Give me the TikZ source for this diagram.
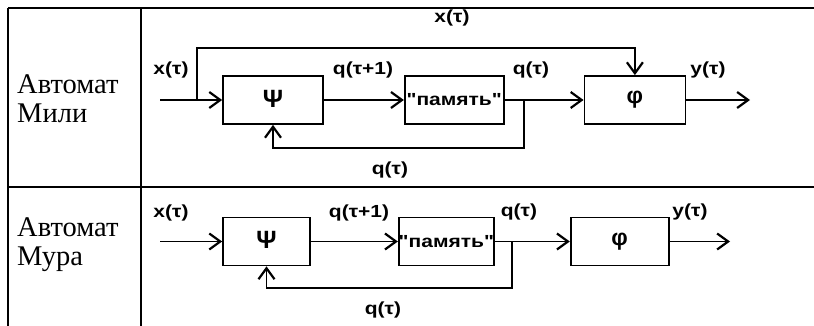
\documentclass[tikz,border=0pt]{standalone}
\usepackage{fontspec}
\setmainfont{Liberation Serif}
\newfontfamily\lblfont[FakeStretch=1.2]{Liberation Sans}
\newfontfamily\symfont{Liberation Sans}
\usetikzlibrary{arrows.meta,positioning}
\newcommand{\lblsize}{\lblfont\bfseries\fontsize{17.5}{19}\selectfont}
\tikzset{
  blockbox/.style={draw=black,line width=1.7pt,minimum height=48pt,
    inner sep=0pt,font=\symfont\bfseries\fontsize{25}{25}\selectfont},
  membox/.style={blockbox,font=\lblsize},
  sigline/.style={line width=1.7pt,draw=black},
  sigarrow/.style={sigline,
    -{Straight Barb[length=11pt,width=16pt,line width=2.2pt]}},
  siglabel/.style={font=\lblsize,inner sep=0pt},
  rowtext/.style={font=\fontsize{28.5}{29}\selectfont,align=left,
    anchor=west,inner sep=0pt},
  tableline/.style={line width=1.5pt},
}

\begin{document}
\begin{tikzpicture}[x=1pt,y=-1pt]
  \useasboundingbox (0,0) rectangle (814,326);
  % table frame
  \draw[tableline] (8,8) -- (814,8);
  \draw[tableline] (8,187) -- (814,187);
  \draw[tableline] (8,8) -- (8,326);
  \draw[tableline] (141,8) -- (141,326);
  \node[rowtext] (mealyname) at (17,99) {Автомат\\Мили};
  \node[rowtext] (moorename) at (17,245) {Автомат\\Мура};

  % Mealy automaton
  \node[blockbox,minimum width=100pt] (psiA) at (273,100) {\raisebox{3pt}{Ψ}};
  \node[membox,minimum width=99pt,right=80pt of psiA] (memA) {"память"};
  \node[blockbox,minimum width=101pt,right=79pt of memA] (phiA)
    {\fontsize{23}{23}\selectfont\raisebox{5pt}{φ}};
  \coordinate (inA) at (160,100);
  \coordinate (brA) at (197,100);
  \coordinate (fbA) at (524,100);
  \coordinate (outA) at (750,100);
  \draw[sigarrow] (inA) -- (psiA);
  \draw[sigarrow] (brA) -- ++(0,-52) -| (phiA.north);
  \draw[sigarrow] (psiA) -- (memA);
  \draw[sigarrow] (memA) -- (phiA);
  \draw[sigarrow] (fbA) -- ++(0,48) -| (psiA.south);
  \draw[sigarrow] (phiA) -- (outA);
  \node[siglabel] (xinA) at (171,70) {x(τ)};
  \node[siglabel] (xtopA) at (452,18) {x(τ)};
  \node[siglabel] (qnextA) at (363,70) {q(τ+1)};
  \node[siglabel] (qoutA) at (531,70) {q(τ)};
  \node[siglabel] (yA) at (708,70) {y(τ)};
  \node[siglabel] (qfbA) at (390,170) {q(τ)};

  % Moore automaton
  \node[blockbox,minimum width=87pt] (psiB) at (266.5,241.5) {\raisebox{3pt}{Ψ}};
  \node[membox,minimum width=95pt,right=87pt of psiB] (memB) {"память"};
  \node[blockbox,minimum width=98pt,right=75pt of memB] (phiB)
    {\fontsize{23}{23}\selectfont\raisebox{5pt}{φ}};
  \coordinate (inB) at (160,241.5);
  \coordinate (fbB) at (512,241.5);
  \coordinate (outB) at (730,241.5);
  \draw[sigarrow] (inB) -- (psiB);
  \draw[sigarrow] (psiB) -- (memB);
  \draw[sigarrow] (memB) -- (phiB);
  \draw[sigarrow] (fbB) -- ++(0,46.5) -| (psiB.south);
  \draw[sigarrow] (phiB) -- (outB);
  \node[siglabel] (xinB) at (171,213) {x(τ)};
  \node[siglabel] (qnextB) at (359,213) {q(τ+1)};
  \node[siglabel] (qoutB) at (519,212) {q(τ)};
  \node[siglabel] (yB) at (690,212) {y(τ)};
  \node[siglabel] (qfbB) at (383,310) {q(τ)};
\end{tikzpicture}
\end{document}
